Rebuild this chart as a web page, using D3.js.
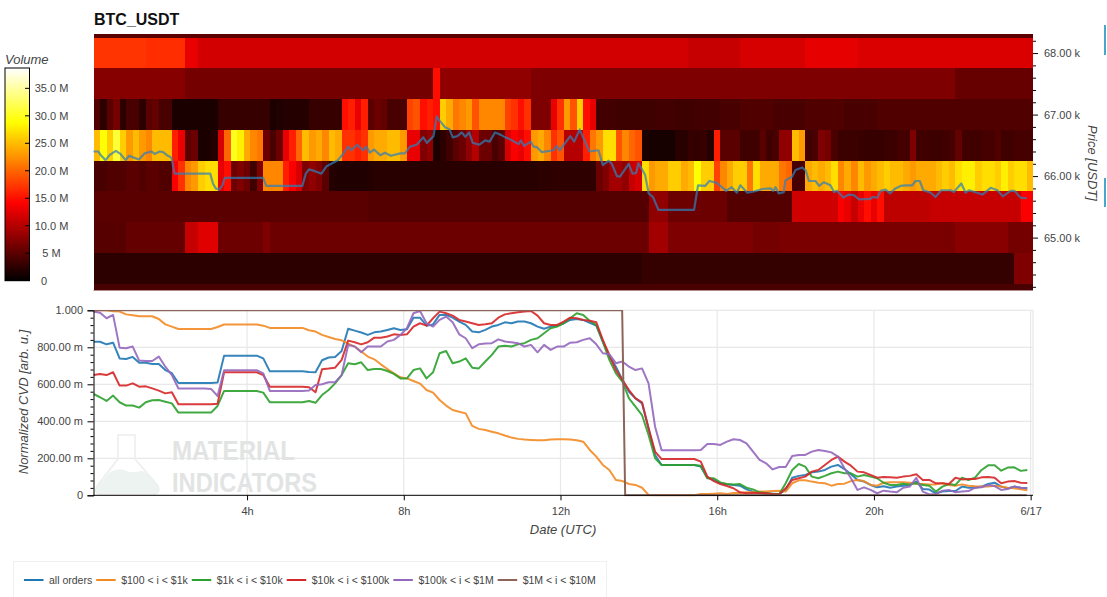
<!DOCTYPE html>
<html>
<head>
<meta charset="utf-8">
<title>BTC_USDT</title>
<script src="https://cdn.jsdelivr.net/npm/d3@7/dist/d3.min.js"></script>
<style>
  html, body { margin: 0; padding: 0; background: #fff; overflow: hidden; }
  svg { display: block; }
  text { font-family: "Liberation Sans", Arial, sans-serif; fill: #444; }
</style>
</head>
<body>
<svg id="chart" width="1107" height="597"></svg>
<script>
// Time of the first sample (hours UTC on 6/16) and spacing of the 10-minute bins
const firstHour = 0.081;
const binHours = 1 / 6;

// Price level at the centre of every heatmap row
const priceBins = [68500, 68000, 67500, 67000, 66500, 66000, 65500, 65000, 64500, 64000];

// Traded volume in millions per 10-minute bin: quiet rows as [bin count, value] runs
const volRuns68500 = [[144, 5]];
const volRuns68000 = [[8, 17.2], [6, 16.8], [2, 13], [75, 11.7], [8, 11], [10, 12], [8, 12.8], [27, 12.2]];
const volRuns67500 = [[14, 7.5], [38, 6.5], [1, 15], [14, 8], [65, 7], [12, 5.7]];
const volume67000 = [
  4.5,2.5,5,6.5,2.5,4,4,2.5,5,5.5,4,4,
  1.5,1.5,1.5,1.5,1.5,1.5,1.5,3,3,3,3,3,
  3,3,3,1.5,1.8,2,2,2,2,3,3,3,
  3,3,15,16,13,16,5,6,5.5,4,4,4,
  18,19,15,16,15,26,24,21,22,23,19,22,
  22,22,22,18,17,15,17,7,7,7,13,17,
  23,19,26,15,13,3.7,3.7,3.7,3.5,3.5,3.5,3.5,
  3.5,3.5,3.7,3.7,3.7,3.5,3.5,3.5,3.7,3.7,3.7,3.7,
  4,4,4,4.5,4.5,4.5,4.5,4.5,4,4,4,4,
  4,4.5,4.5,4.5,4.5,4.5,4.5,4,4,4,4,4,
  4.5,4.5,4.5,4.5,4.5,4.5,4.5,4.5,4.5,4.5,4.5,4.5,
  4.5,4.5,4.5,4.5,4.5,4.5,4.5,4.5,4.5,4.5,4.5,4.5
];
const volume66500 = [
  25,29,26,31,26,23,25,23,22,25,25,25,
  16,13,5,6,1.5,1.5,2,12,20,30,28,24,
  22,21,6,4,6,13,16,20,25,23,24,22,
  25,24,17,17,16,17,23,24,24,25,25,23,
  13,13,7,8,1.5,2.5,3.5,5,6,8,10,6,
  6,4,5,12,14,13,15,23,24,22,17,19,
  10,10,10,16,21,23,27,27,19,22,20,19,
  1.5,1.3,1.3,1.3,1.3,2.2,2.2,3,2.8,3,2,16,
  5,5,5,3.6,3.6,3.6,5,3.6,4,8,8,25,
  23,3.7,4,7,6.5,4.2,3.3,3.3,3.3,3.2,3,3,
  3,3.3,3.3,3.8,3.8,7,3.6,3.6,3.4,3.4,3.6,3.9,
  5.5,3.6,3.6,3.6,3.9,3.9,4.5,3.6,3.6,3.9,3.9,3.9
];
const volume66000 = [
  4,4,4.5,4.5,4.5,5,5,4.5,5,5,4.5,4.5,
  14,17,22,23,26,27,27,13,15,6,7,6,
  3.5,7,22,22,22,16,14,12,7,8,7,5,
  2,1.8,1.8,1.8,1.8,1.8,2,2.2,2.2,2.2,2.2,2.2,
  2.2,2.2,2.2,2.2,2.2,2.2,2.2,2.2,2.2,2.2,2.2,2.2,
  2.2,2.2,2.2,2.3,2.3,2.3,2.3,2.3,2.5,2.5,2.6,2.6,
  2.6,2.6,2.6,2.6,2.6,6,7,9,9,8,11,12,
  27,23,24,24,26,26,24,25,29,26,26,18,
  22,24,26,26,21,27,24,24,24,21,20,4,
  4,24,25,24,25,27,22,24,22,25,23,24,
  25,26,25,25,24,23,24,24,24,25,26,25,
  27,28,28,26,27,27,26,28,26,27,27,25
];
const volRuns65500 = [[42, 5], [43, 4.7], [3, 8], [9, 6], [10, 4.7], [7, 11.5], [1, 14], [1, 13], [1, 11], [1, 13], [1, 15], [1, 13], [1, 15], [7, 10.5], [14, 11], [2, 14]];
const volRuns65000 = [[5, 4.8], [9, 5.6], [2, 11], [3, 12.5], [7, 6], [1, 7], [58, 6], [3, 9], [9, 7], [4, 7], [4, 6.5], [27, 6.8], [8, 7.6], [4, 6.5]];
const volRuns64500 = [[84, 2.5], [57, 2.9], [3, 7]];
const volRuns64000 = [[144, 4]];

// Last traded price, sampled where the line changes direction
const priceHours = [
  .08,.20,.28,.39,.49,.65,.77,.90,.99,1.11,1.24,1.39,1.56,1.64,1.77,1.86,1.98,2.07,2.15,3.06,3.13,3.20,3.29,3.37,3.43,4.41,4.49,5.41,5.50,5.58,5.73,5.90,6.03,6.15,6.32,6.45,6.58,6.66,6.81,6.96,7.05,7.13,
  7.24,7.40,7.52,7.67,7.91,8.03,8.16,8.33,8.50,8.59,8.76,8.84,8.93,9.06,9.17,9.25,9.37,9.48,9.57,9.67,9.76,9.93,10.08,10.19,10.33,10.48,10.59,10.71,10.93,10.99,11.07,11.24,11.31,11.40,11.52,11.82,11.90,11.98,12.11,12.25,12.35,12.49,12.59,12.74,12.97,13.08,13.23,13.31,13.44,13.52,13.74,13.84,13.93,13.99,14.16,14.25,14.36,14.50,15.41,15.51,15.69,15.80,15.99,16.23,16.37,16.50,16.59,
  16.77,16.94,17.15,17.36,17.43,17.49,17.57,17.70,17.74,17.91,18.00,18.17,18.26,18.34,18.51,18.60,18.72,18.89,18.98,19.06,19.22,19.36,19.49,19.62,19.91,19.96,20.09,20.17,20.30,20.41,20.55,20.68,20.81,20.98,21.06,21.17,21.26,21.45,21.57,21.72,21.96,22.04,22.23,22.34,22.43,22.77,22.98,23.15,23.29,23.49,23.59,23.74,23.90
];
const priceValues = [
  66400,66400,66330,66260,66340,66410,66360,66260,66330,66300,66270,66370,66400,66360,66400,66390,66330,66300,66040,66040,65880,65800,65780,65850,65970,65970,65840,65840,66040,66110,66080,66040,66160,66200,66260,66360,66480,66420,66510,66420,66480,66380,
  66430,66340,66380,66330,66370,66370,66480,66510,66630,66540,66650,66970,66890,66790,66760,66630,66650,66710,66640,66710,66540,66510,66580,66560,66710,66670,66630,66600,66520,66580,66490,66560,66480,66470,66390,66420,66490,66420,66530,66650,66560,66760,66610,66400,66420,66180,66250,66200,66000,65990,66200,66040,66050,66210,66020,65720,65660,65450,65450,65850,65840,65920,65890,65760,65820,65730,65850,
  65730,65750,65790,65800,65760,65820,65720,65740,65930,65990,66100,66140,66090,65920,65920,65840,65900,65850,65740,65760,65650,65700,65690,65620,65630,65660,65650,65760,65780,65720,65800,65840,65850,65850,65920,65920,65770,65730,65660,65770,65770,65740,65880,65730,65770,65700,65810,65770,65670,65760,65760,65650,65640
];

// Normalized CVD per 10-minute bin for each order-size class
const cvdAll = [
  .83,.83,.816,.825,.74,.737,.748,.717,.717,.71,.71,.677,
  .66,.607,.607,.607,.607,.607,.607,.61,.755,.755,.755,.755,
  .755,.755,.74,.67,.67,.67,.67,.67,.67,.667,.665,.73,
  .745,.748,.78,.9,.89,.88,.867,.881,.885,.894,.903,.894,
  .897,.96,.96,.917,.924,.975,.975,.96,.939,.921,.885,.881,
  .894,.912,.921,.935,.93,.939,.939,.93,.912,.9,.912,.917,
  .93,.948,.953,.948,.932,.917,.83,.75,.695,.623,.56,.524,
  .497,.362,.218,.164,.164,.164,.164,.164,.164,.155,.095,.083,
  .065,.06,.056,.052,.032,.02,.013,.009,.009,.007,.029,.095,
  .105,.11,.124,.128,.137,.155,.164,.142,.114,.083,.074,.056,
  .043,.049,.041,.047,.052,.056,.074,.034,.031,.011,.02,.023,
  .023,.047,.041,.041,.047,.061,.068,.047,.038,.047,.041,.038
];
const cvd100to1k = [
  1,1,1,.995,.993,.978,.973,.968,.968,.968,.953,.924,
  .912,.899,.899,.899,.899,.899,.899,.91,.923,.923,.923,.923,
  .923,.923,.917,.905,.905,.905,.905,.905,.905,.892,.885,.867,
  .856,.845,.838,.82,.804,.777,.75,.735,.708,.683,.659,.638,
  .632,.618,.604,.569,.555,.515,.485,.461,.452,.443,.375,.359,
  .353,.344,.335,.323,.312,.305,.301,.299,.297,.297,.301,.303,
  .303,.301,.297,.29,.245,.209,.164,.137,.083,.077,.061,.056,
  .041,.002,0,0,0,0,0,0,0,.007,.007,.009,
  .011,.007,.013,.013,.016,.016,.02,.02,.023,.025,.02,.065,
  .081,.081,.074,.068,.065,.052,.061,.063,.077,.083,.077,.056,
  .052,.068,.07,.07,.07,.068,.063,.061,.059,.059,.065,.056,
  .052,.059,.052,.049,.047,.047,.052,.047,.041,.038,.032,.027
];
const cvd1kto10k = [
  .548,.53,.51,.539,.503,.485,.485,.474,.503,.514,.515,.506,
  .497,.447,.447,.447,.447,.447,.447,.483,.564,.564,.564,.564,
  .564,.564,.555,.503,.503,.503,.503,.503,.503,.51,.5,.542,
  .569,.605,.65,.714,.708,.719,.677,.683,.683,.672,.656,.632,
  .632,.677,.686,.632,.665,.768,.78,.714,.723,.74,.69,.686,
  .723,.759,.804,.809,.804,.816,.822,.84,.849,.876,.903,.912,
  .93,.957,.984,.975,.942,.921,.83,.732,.659,.614,.524,.479,
  .434,.326,.2,.164,.164,.164,.164,.164,.164,.16,.092,.092,
  .07,.061,.059,.061,.041,.032,.016,.013,.007,.005,.065,.137,
  .169,.155,.101,.092,.105,.119,.128,.119,.119,.101,.11,.101,
  .092,.068,.056,.056,.063,.059,.065,.056,.052,.02,.047,.061,
  .056,.095,.083,.095,.137,.162,.162,.133,.15,.151,.132,.137
];
const cvd10kto100k = [
  .65,.656,.65,.665,.593,.593,.605,.587,.589,.578,.566,.551,
  .557,.492,.492,.492,.492,.492,.492,.495,.665,.665,.665,.665,
  .665,.665,.65,.587,.587,.587,.587,.587,.587,.584,.557,.681,
  .685,.69,.732,.836,.827,.816,.827,.852,.852,.858,.87,.867,
  .87,.912,.93,.917,.957,.993,.984,.971,.948,.939,.93,.921,
  .924,.93,.96,.978,.984,.989,.993,.996,.971,.93,.921,.921,
  .939,.96,.957,.948,.944,.935,.84,.759,.677,.623,.569,.524,
  .503,.362,.236,.196,.196,.196,.196,.196,.196,.182,.101,.077,
  .061,.05,.038,.016,.011,.013,.013,.011,.007,.005,.038,.083,
  .092,.101,.128,.137,.164,.191,.209,.182,.16,.128,.124,.11,
  .095,.099,.097,.095,.101,.105,.114,.083,.083,.065,.065,.061,
  .095,.086,.088,.088,.097,.099,.095,.065,.074,.077,.068,.067
];
const cvd100kto1m = [
  .993,.987,.957,.975,.798,.795,.804,.728,.726,.726,.75,.695,
  .65,.577,.577,.577,.577,.577,.575,.537,.676,.676,.676,.676,
  .676,.676,.659,.564,.564,.564,.564,.564,.564,.566,.596,.6,
  .611,.611,.65,.813,.804,.773,.804,.804,.804,.831,.84,.867,
  .903,.984,.996,.93,.912,.948,.966,.935,.87,.849,.795,.816,
  .82,.822,.843,.831,.827,.822,.804,.813,.773,.813,.786,.804,
  .804,.825,.827,.84,.849,.816,.768,.762,.714,.723,.695,.677,
  .686,.605,.371,.243,.243,.243,.243,.243,.243,.245,.277,.277,
  .272,.29,.303,.299,.281,.236,.191,.173,.14,.153,.153,.213,
  .218,.218,.236,.245,.24,.232,.209,.146,.092,.029,.043,.029,
  .011,.025,.02,.016,.041,.047,.095,.02,.005,.007,.025,.029,
  .016,.02,.023,.041,.043,.056,.05,.029,.034,.047,.041,.038
];
// The largest class only has one step, so it is kept as corner points
const cvd1mto10mHours = [.081, 13.574, 13.651, 23.9];
const cvd1mto10m = [1, 1, 0, 0];

const seriesNames = ["all orders", "$100 < i < $1k", "$1k < i < $10k", "$10k < i < $100k", "$100k < i < $1M", "$1M < i < $10M"];
const seriesColors = ["#1f77b4", "#f28a22", "#2ca02c", "#d62728", "#9467bd", "#8c6459"];

// Axis labelling
const hourTicks = [4, 8, 12, 16, 20, 24];
const hourTickLabels = ["4h", "8h", "12h", "16h", "20h", "6/17"];
const priceTicks = [65000, 66000, 67000, 68000];
const priceMinorTicks = [64200,64400,64600,64800,65200,65400,65600,65800,66200,66400,66600,66800,67200,67400,67600,67800,68200];
const cvdTicks = [0, .2, .4, .6, .8, 1];
const cvdTickLabels = ["0", "200.00 m", "400.00 m", "600.00 m", "800.00 m", "1.000"];
const cvdMinorTicks = [.04,.08,.12,.16,.24,.28,.32,.36,.44,.48,.52,.56,.64,.68,.72,.76,.84,.88,.92,.96];
const volumeTicks = [0, 5, 10, 15, 20, 25, 30, 35];
const volumeTickLabels = ["0", "5 M", "10.0 M", "15.0 M", "20.0 M", "25.0 M", "30.0 M", "35.0 M"];
const volumeMax = 38.7;

const expandRuns = runs => runs.flatMap(([n, v]) => d3.range(n).map(() => v));
const volumeRows = [
  expandRuns(volRuns68500), expandRuns(volRuns68000), expandRuns(volRuns67500),
  volume67000, volume66500, volume66000,
  expandRuns(volRuns65500), expandRuns(volRuns65000), expandRuns(volRuns64500), expandRuns(volRuns64000)
];

const svg = d3.select("#chart");
const defs = svg.append("defs");

// Shared layout frame
const left = 93.5, right = 1033;
const heatTop = 34, heatBottom = 290.5;
const cvdTop = 310.3, cvdBottom = 495.3;

const x = d3.scaleLinear().domain([firstHour, 24.06]).range([left, right]);
const yPrice = d3.scaleLinear().domain([64140, 68310]).range([heatBottom, heatTop]);
const yCvd = d3.scaleLinear().domain([0, 1]).range([cvdBottom, cvdTop]);
const yBar = d3.scaleLinear().domain([0, volumeMax]).range([280.7, 68]);

// Black-red-yellow-white ramp
const hot = d3.scaleLinear()
  .domain([0, 14.2, 28.9, volumeMax])
  .range(["#000000", "#ff0000", "#ffff00", "#ffffff"])
  .clamp(true);

defs.append("clipPath").attr("id", "heat-clip").append("rect")
  .attr("x", left).attr("y", heatTop).attr("width", right - left).attr("height", heatBottom - heatTop);
defs.append("clipPath").attr("id", "cvd-clip").append("rect")
  .attr("x", left).attr("y", cvdTop - .3).attr("width", right - left).attr("height", cvdBottom - cvdTop + 1.5);

// Title
svg.append("text").attr("x", 94).attr("y", 25).attr("font-size", 16).attr("font-weight", "bold")
  .style("fill", "#111").text("BTC_USDT");

// Heatmap of traded volume per price bin and time bin
const heat = svg.append("g").attr("clip-path", "url(#heat-clip)").attr("shape-rendering", "crispEdges");
priceBins.forEach((price, r) => {
  heat.append("g").selectAll("rect").data(volumeRows[r]).join("rect")
    .attr("x", (d, i) => x(firstHour + i * binHours))
    .attr("width", x(firstHour + binHours) - x(firstHour) + .6)
    .attr("y", yPrice(price + 250))
    .attr("height", yPrice(price - 250) - yPrice(price + 250) + .3)
    .attr("fill", d => hot(d));
});
svg.append("line").attr("x1", left).attr("x2", right).attr("y1", heatBottom).attr("y2", heatBottom)
  .attr("stroke", "#b08a8a").attr("stroke-width", 1);

// Price line on top of the heatmap
const priceLine = d3.line().x(d => x(d[0])).y(d => yPrice(d[1]));
svg.append("path")
  .datum(priceHours.map((h, i) => [h, priceValues[i]]))
  .attr("d", priceLine).attr("fill", "none")
  .attr("stroke", "#2f7fb8").attr("stroke-width", 2.2).attr("stroke-opacity", .72)
  .attr("stroke-linejoin", "round");

// Right-hand price axis
const priceAxis = d3.axisRight(yPrice).tickValues(priceTicks).tickSize(5).tickPadding(6)
  .tickFormat(d => d3.format(".2f")(d / 1000) + " k");
const priceG = svg.append("g").attr("transform", `translate(${right},0)`).call(priceAxis);
priceG.select(".domain").remove();
priceG.selectAll("text").attr("font-size", 11).attr("font-family", null);
const priceMinor = svg.append("g").attr("transform", `translate(${right},0)`)
  .call(d3.axisRight(yPrice).tickValues(priceMinorTicks).tickSize(3).tickFormat(""));
priceMinor.select(".domain").remove();
svg.append("text").attr("transform", "translate(1088,163) rotate(90)")
  .attr("text-anchor", "middle").attr("font-size", 13).attr("font-style", "italic").text("Price [USDT]");

// Volume colour bar
const barSteps = d3.range(0, volumeMax, .1);
svg.append("g").attr("shape-rendering", "crispEdges").selectAll("rect").data(barSteps).join("rect")
  .attr("x", 5).attr("width", 24.5)
  .attr("y", d => yBar(d + .1)).attr("height", d => yBar(d) - yBar(d + .1) + .5)
  .attr("fill", d => hot(d));
svg.append("rect").attr("x", 5).attr("y", yBar(volumeMax)).attr("width", 24.5)
  .attr("height", yBar(0) - yBar(volumeMax)).attr("fill", "none").attr("stroke", "#000").attr("stroke-width", 1);
svg.append("g").selectAll("line").data(volumeTicks.slice(1)).join("line")
  .attr("x1", 25).attr("x2", 29.5).attr("y1", d => yBar(d)).attr("y2", d => yBar(d)).attr("stroke", "#000");
svg.append("g").selectAll("text").data(volumeTicks).join("text")
  .attr("x", d => d === 0 ? 44 : 51.5).attr("y", d => yBar(d)).attr("dy", ".35em")
  .attr("text-anchor", "middle").attr("font-size", 11)
  .text((d, i) => volumeTickLabels[i]);
svg.append("text").attr("x", 5).attr("y", 64).attr("font-size", 13).attr("font-style", "italic").text("Volume");

// Grid of the CVD panel
const grid = svg.append("g").attr("stroke", "#e8e8e8").attr("stroke-width", 1.2);
grid.selectAll(".h").data(cvdTicks.slice(1)).join("line").attr("class", "h")
  .attr("x1", left).attr("x2", right).attr("y1", d => yCvd(d)).attr("y2", d => yCvd(d));
grid.selectAll(".v").data(hourTicks).join("line").attr("class", "v")
  .attr("x1", d => x(d)).attr("x2", d => x(d)).attr("y1", cvdTop).attr("y2", cvdBottom);
grid.append("line").attr("x1", right).attr("x2", right).attr("y1", cvdTop).attr("y2", cvdBottom);

// Faint flask and wordmark behind the lines
const mark = svg.append("g");
mark.append("path")
  .attr("d", "M118 435 H135 V459 L158 486 Q161 494 153 494 H102 Q93 494 97 486 L118 459 Z")
  .attr("fill", "none").attr("stroke", "#eceeed").attr("stroke-width", 1.5);
mark.append("path")
  .attr("d", "M97 487 L110 472 Q118 468 124 470 Q132 474 140 471 Q146 470 152 480 L158 487 Q160 493 153 493 H102 Q94 493 97 487 Z")
  .attr("fill", "#ecf3f0");
mark.selectAll("text").data([["MATERIAL", 460, 123], ["INDICATORS", 492, 145]]).join("text")
  .attr("x", 172).attr("y", d => d[1]).attr("font-size", 28).attr("font-weight", "bold")
  .attr("textLength", d => d[2]).attr("lengthAdjust", "spacingAndGlyphs")
  .style("font-family", '"Liberation Sans Narrow", "Liberation Sans", sans-serif')
  .style("fill", "#e2e4e4").text(d => d[0]);

// CVD lines
const gridHours = cvdAll.map((_, i) => firstHour + i * binHours);
const cvdRows = [cvdAll, cvd100to1k, cvd1kto10k, cvd10kto100k, cvd100kto1m]
  .map(vals => vals.map((v, i) => [gridHours[i], v]));
cvdRows.push(cvd1mto10mHours.map((h, i) => [h, cvd1mto10m[i]]));
const cvdLine = d3.line().x(d => x(d[0])).y(d => yCvd(d[1]));
svg.append("g").attr("clip-path", "url(#cvd-clip)").selectAll("path").data(cvdRows).join("path")
  .attr("d", cvdLine).attr("fill", "none")
  .attr("stroke", (d, i) => seriesColors[i]).attr("stroke-width", 2)
  .attr("stroke-opacity", (d, i) => i === 5 ? 1 : .9)
  .attr("stroke-linejoin", "round");

// CVD axes
const bottomAxis = d3.axisBottom(x).tickValues(hourTicks).tickSize(5).tickPadding(7)
  .tickFormat((d, i) => hourTickLabels[i]);
const bottomG = svg.append("g").attr("transform", `translate(0,${cvdBottom})`).call(bottomAxis);
bottomG.select(".domain").attr("stroke", "#000").attr("d", `M${left},0H${right}`);
bottomG.selectAll("text").attr("font-size", 11).attr("font-family", null);

const leftAxis = d3.axisLeft(yCvd).tickValues(cvdTicks).tickSize(6).tickPadding(4.5)
  .tickFormat((d, i) => cvdTickLabels[i]);
const leftG = svg.append("g").attr("transform", `translate(${left},0)`).call(leftAxis);
leftG.selectAll("text").attr("font-size", 11).attr("font-family", null);
const leftMinor = svg.append("g").attr("transform", `translate(${left},0)`)
  .call(d3.axisLeft(yCvd).tickValues(cvdMinorTicks).tickSize(3).tickFormat(""));
leftMinor.select(".domain").remove();

svg.append("text").attr("transform", "translate(28,402) rotate(-90)")
  .attr("text-anchor", "middle").attr("font-size", 13).attr("font-style", "italic").text("Normalized CVD [arb. u.]");
svg.append("text").attr("x", 563).attr("y", 534).attr("text-anchor", "middle")
  .attr("font-size", 13).attr("font-style", "italic").text("Date (UTC)");

// Legend strip, laid out from the measured width of each label
svg.append("rect").attr("x", 13.5).attr("y", 561.5).attr("width", 593).attr("height", 42)
  .attr("fill", "#fff").attr("stroke", "#f0f0f0");
let legendX = 24;
seriesNames.forEach((name, i) => {
  svg.append("line").attr("x1", legendX).attr("x2", legendX + 19.5).attr("y1", 580).attr("y2", 580)
    .attr("stroke", seriesColors[i]).attr("stroke-width", 2);
  const label = svg.append("text").attr("x", legendX + 25).attr("y", 583.5).attr("font-size", 10.5).text(name);
  legendX += 25 + label.node().getComputedTextLength() + 4;
});

// Slivers of the panel controls at the window edge
svg.append("g").selectAll("rect").data([[25, 30], [178, 29]]).join("rect")
  .attr("x", 1104).attr("width", 2).attr("y", d => d[0]).attr("height", d => d[1]).attr("fill", "#46a7cd");
</script>
</body>
</html>
